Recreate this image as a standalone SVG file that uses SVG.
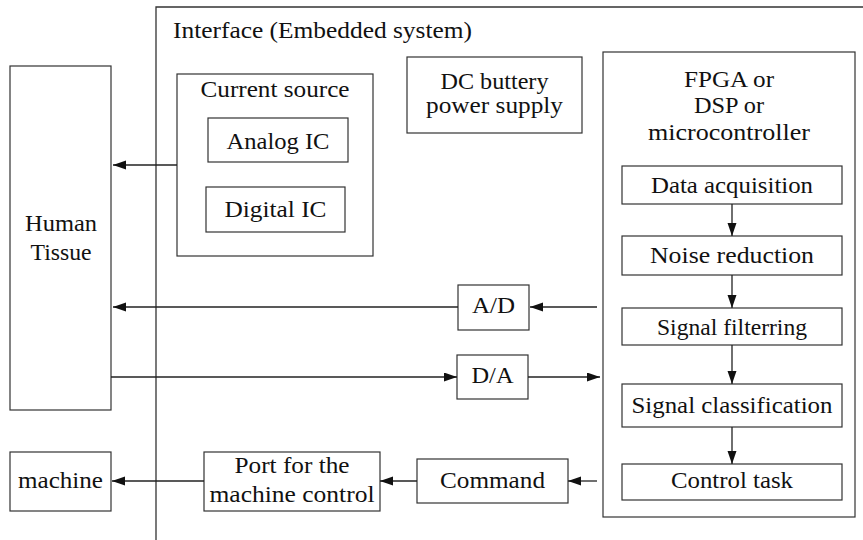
<svg xmlns="http://www.w3.org/2000/svg" width="863" height="540" viewBox="0 0 863 540" font-family="Liberation Serif, Times New Roman, serif" font-size="24">
  <style>
    .box { fill: #fff; stroke: #333; stroke-width: 1.2; }
    .frame { fill: none; stroke: #333; stroke-width: 1.3; }
    .lbl { fill: #111; text-anchor: middle; }
    .title { fill: #111; }
    .wire { fill: none; stroke: #222; stroke-width: 1.3; }
  </style>
  <defs>
    <marker id="arrow" markerUnits="userSpaceOnUse" markerWidth="14" markerHeight="10" refX="13" refY="4.5" orient="auto">
      <path d="M0,0 L13,4.5 L0,9 Z" fill="#111"/>
    </marker>
  </defs>
  <rect width="863" height="540" fill="#fff"/>

  <!-- Embedded system frame (open on right and bottom) -->
  <g id="interface">
    <path class="frame" d="M156,540 V7 H863"/>
    <text class="title" x="173" y="38" textLength="299" lengthAdjust="spacingAndGlyphs">Interface (Embedded system)</text>
  </g>

  <g id="human-tissue">
    <rect class="box" x="10" y="66" width="101" height="344"/>
    <text class="lbl" x="61" y="231" textLength="72" lengthAdjust="spacingAndGlyphs">Human</text>
    <text class="lbl" x="61" y="260" textLength="61" lengthAdjust="spacingAndGlyphs">Tissue</text>
  </g>

  <g id="current-source">
    <rect class="box" x="177" y="74" width="196" height="182"/>
    <text class="lbl" x="275" y="97" textLength="149" lengthAdjust="spacingAndGlyphs">Current source</text>
  </g>
  <g id="analog-ic">
    <rect class="box" x="208" y="118" width="140" height="44"/>
    <text class="lbl" x="278" y="149" textLength="103" lengthAdjust="spacingAndGlyphs">Analog IC</text>
  </g>
  <g id="digital-ic">
    <rect class="box" x="206" y="187" width="139" height="45"/>
    <text class="lbl" x="275.5" y="217" textLength="102" lengthAdjust="spacingAndGlyphs">Digital IC</text>
  </g>

  <g id="dc-supply">
    <rect class="box" x="407" y="57" width="175" height="76"/>
    <text class="lbl" x="494.5" y="89" textLength="108" lengthAdjust="spacingAndGlyphs">DC buttery</text>
    <text class="lbl" x="494.5" y="113" textLength="137" lengthAdjust="spacingAndGlyphs">power supply</text>
  </g>

  <g id="processor">
    <rect class="box" x="603" y="52" width="252" height="465"/>
    <text class="lbl" x="729" y="87" textLength="90" lengthAdjust="spacingAndGlyphs">FPGA or</text>
    <text class="lbl" x="729" y="113" textLength="70" lengthAdjust="spacingAndGlyphs">DSP or</text>
    <text class="lbl" x="729" y="140" textLength="162" lengthAdjust="spacingAndGlyphs">microcontroller</text>
  </g>
  <g id="data-acquisition">
    <rect class="box" x="622" y="166" width="220" height="38"/>
    <text class="lbl" x="732" y="193" textLength="162" lengthAdjust="spacingAndGlyphs">Data acquisition</text>
  </g>
  <g id="noise-reduction">
    <rect class="box" x="622" y="236" width="220" height="39"/>
    <text class="lbl" x="732" y="263" textLength="164" lengthAdjust="spacingAndGlyphs">Noise reduction</text>
  </g>
  <g id="signal-filtering">
    <rect class="box" x="622" y="308" width="220" height="37"/>
    <text class="lbl" x="732" y="335" textLength="150" lengthAdjust="spacingAndGlyphs">Signal filterring</text>
  </g>
  <g id="signal-classification">
    <rect class="box" x="622" y="384" width="220" height="43"/>
    <text class="lbl" x="732" y="413" textLength="201" lengthAdjust="spacingAndGlyphs">Signal classification</text>
  </g>
  <g id="control-task">
    <rect class="box" x="622" y="464" width="220" height="36"/>
    <text class="lbl" x="732" y="488" textLength="122" lengthAdjust="spacingAndGlyphs">Control task</text>
  </g>

  <g id="adc">
    <rect class="box" x="458" y="285" width="71" height="45"/>
    <text class="lbl" x="493.5" y="313" textLength="43" lengthAdjust="spacingAndGlyphs">A/D</text>
  </g>
  <g id="dac">
    <rect class="box" x="457" y="355" width="71" height="44"/>
    <text class="lbl" x="492.5" y="383" textLength="42" lengthAdjust="spacingAndGlyphs">D/A</text>
  </g>
  <g id="command">
    <rect class="box" x="417" y="459" width="151" height="44"/>
    <text class="lbl" x="492.5" y="488" textLength="105" lengthAdjust="spacingAndGlyphs">Command</text>
  </g>
  <g id="machine-port">
    <rect class="box" x="204" y="452" width="176" height="59"/>
    <text class="lbl" x="292" y="473" textLength="115" lengthAdjust="spacingAndGlyphs">Port for the</text>
    <text class="lbl" x="292" y="502" textLength="165" lengthAdjust="spacingAndGlyphs">machine control</text>
  </g>
  <g id="machine">
    <rect class="box" x="10" y="452" width="101" height="59"/>
    <text class="lbl" x="60.5" y="488" textLength="85" lengthAdjust="spacingAndGlyphs">machine</text>
  </g>

  <g id="connectors">
    <line class="wire" x1="177" y1="165" x2="113" y2="165" marker-end="url(#arrow)"/>
    <line class="wire" x1="597" y1="307" x2="530" y2="307" marker-end="url(#arrow)"/>
    <line class="wire" x1="458" y1="307" x2="113" y2="307" marker-end="url(#arrow)"/>
    <line class="wire" x1="111" y1="377" x2="457" y2="377" marker-end="url(#arrow)"/>
    <line class="wire" x1="528" y1="377" x2="600" y2="377" marker-end="url(#arrow)"/>
    <line class="wire" x1="597" y1="481" x2="568" y2="481" marker-end="url(#arrow)"/>
    <line class="wire" x1="417" y1="481" x2="380" y2="481" marker-end="url(#arrow)"/>
    <line class="wire" x1="204" y1="481" x2="112" y2="481" marker-end="url(#arrow)"/>
    <line class="wire" x1="732" y1="204" x2="732" y2="236" marker-end="url(#arrow)"/>
    <line class="wire" x1="732" y1="275" x2="732" y2="308" marker-end="url(#arrow)"/>
    <line class="wire" x1="732" y1="345" x2="732" y2="384" marker-end="url(#arrow)"/>
    <line class="wire" x1="732" y1="427" x2="732" y2="464" marker-end="url(#arrow)"/>
  </g>
</svg>
